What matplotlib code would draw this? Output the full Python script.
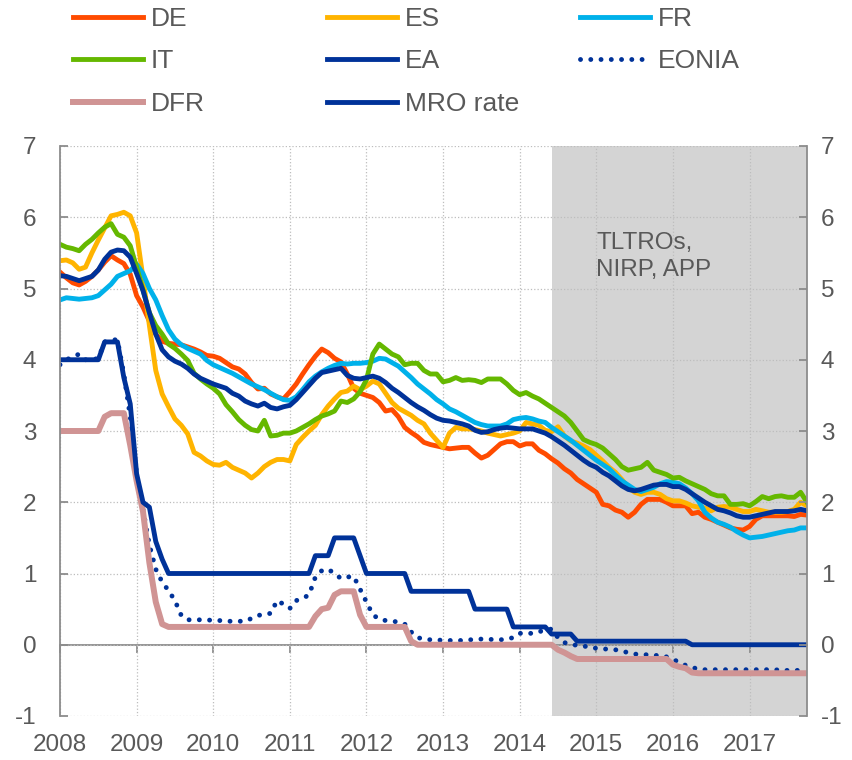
import numpy as np
import pandas as pd
import matplotlib
matplotlib.use("Agg")
import matplotlib.pyplot as plt

plt.rcParams['font.family'] = ['Liberation Sans', 'DejaVu Sans']
plt.rcParams['axes.unicode_minus'] = False

# monthly data, Jan 2008 - Oct 2017
mois = pd.date_range("2008-01-01", "2017-10-01", freq="MS")
annees = [2008, 2009, 2010, 2011, 2012, 2013, 2014, 2015, 2016, 2017]

de = [5.23, 5.15, 5.08, 5.05, 5.10, 5.17, 5.26, 5.37, 5.46, 5.40, 5.35, 5.20,
      4.90, 4.74, 4.54, 4.36, 4.26, 4.23, 4.22, 4.21, 4.18, 4.15, 4.11, 4.06,
      4.05, 4.02, 3.96, 3.90, 3.87, 3.80, 3.68, 3.59, 3.60, 3.52, 3.48, 3.45,
      3.55, 3.66, 3.80, 3.93, 4.05, 4.15, 4.10, 4.02, 3.97, 3.80, 3.60, 3.53,
      3.50, 3.47, 3.40, 3.28, 3.30, 3.20, 3.05, 2.98, 2.92, 2.84, 2.81, 2.79,
      2.77, 2.75, 2.76, 2.77, 2.77, 2.69, 2.62, 2.66, 2.74, 2.82, 2.85, 2.85,
      2.79, 2.82, 2.82, 2.73, 2.68, 2.61, 2.55, 2.47, 2.41, 2.32, 2.26, 2.20,
      2.14, 1.97, 1.95, 1.89, 1.86, 1.79, 1.86, 1.97, 2.04, 2.04, 2.04, 2.00,
      1.95, 1.95, 1.95, 1.84, 1.86, 1.79, 1.76, 1.72, 1.68, 1.64, 1.62, 1.61,
      1.66, 1.76, 1.81, 1.81, 1.81, 1.81, 1.81, 1.80, 1.83, 1.82]

es = [5.39, 5.40, 5.36, 5.27, 5.30, 5.50, 5.68, 5.85, 6.02, 6.04, 6.07, 6.02,
      5.78, 5.15, 4.48, 3.85, 3.52, 3.34, 3.17, 3.08, 2.96, 2.70, 2.65, 2.58,
      2.53, 2.52, 2.56, 2.49, 2.45, 2.41, 2.34, 2.41, 2.50, 2.56, 2.60, 2.60,
      2.58, 2.81, 2.91, 3.00, 3.08, 3.23, 3.35, 3.45, 3.54, 3.56, 3.63, 3.58,
      3.63, 3.70, 3.66, 3.53, 3.40, 3.32, 3.27, 3.22, 3.15, 3.10, 2.97, 2.87,
      2.77, 2.97, 3.05, 3.03, 3.03, 3.02, 3.00, 2.97, 2.95, 2.93, 2.95, 2.97,
      3.00, 3.12, 3.10, 3.08, 3.01, 2.99, 3.06, 2.93, 2.86, 2.83, 2.79, 2.74,
      2.66, 2.58, 2.49, 2.42, 2.32, 2.21, 2.14, 2.11, 2.14, 2.14, 2.11, 2.05,
      2.02, 2.02, 1.99, 1.95, 1.93, 1.92, 1.88, 1.93, 1.94, 1.93, 1.90, 1.87,
      1.87, 1.90, 1.88, 1.86, 1.86, 1.86, 1.87, 1.90, 2.00, 1.95]

fr = [4.84, 4.87, 4.86, 4.85, 4.86, 4.87, 4.90, 4.98, 5.06, 5.17, 5.21, 5.25,
      5.34, 5.21, 5.00, 4.84, 4.62, 4.42, 4.29, 4.21, 4.16, 4.12, 4.08, 3.99,
      3.93, 3.89, 3.85, 3.81, 3.76, 3.71, 3.66, 3.62, 3.58, 3.53, 3.48, 3.44,
      3.43, 3.48, 3.58, 3.69, 3.77, 3.83, 3.88, 3.92, 3.95, 3.94, 3.95, 3.95,
      3.96, 3.98, 4.02, 4.01, 3.96, 3.91, 3.83, 3.75, 3.66, 3.59, 3.52, 3.44,
      3.38, 3.31, 3.27, 3.22, 3.17, 3.12, 3.09, 3.07, 3.07, 3.07, 3.10, 3.16,
      3.18, 3.19, 3.17, 3.14, 3.12, 3.05, 2.99, 2.93, 2.87, 2.80, 2.73, 2.66,
      2.59, 2.53, 2.47, 2.38, 2.30, 2.24, 2.18, 2.15, 2.18, 2.21, 2.26, 2.29,
      2.28, 2.26, 2.20, 2.12, 2.02, 1.86, 1.78, 1.72, 1.69, 1.65, 1.59, 1.54,
      1.50, 1.51, 1.52, 1.54, 1.56, 1.58, 1.60, 1.61, 1.64, 1.64]

it = [5.62, 5.58, 5.56, 5.53, 5.62, 5.69, 5.78, 5.86, 5.91, 5.76, 5.72, 5.60,
      5.30, 4.98, 4.66, 4.48, 4.36, 4.22, 4.16, 4.08, 3.99, 3.81, 3.73, 3.66,
      3.60, 3.52, 3.37, 3.27, 3.16, 3.08, 3.02, 3.00, 3.15, 2.93, 2.94, 2.97,
      2.97, 3.00, 3.05, 3.10, 3.16, 3.21, 3.24, 3.28, 3.42, 3.40, 3.45, 3.55,
      3.72, 4.08, 4.22, 4.15, 4.08, 4.04, 3.93, 3.95, 3.95, 3.85, 3.80, 3.80,
      3.69, 3.71, 3.75, 3.71, 3.72, 3.71, 3.68, 3.73, 3.73, 3.73, 3.66, 3.57,
      3.51, 3.54, 3.49, 3.45, 3.39, 3.33, 3.27, 3.21, 3.12, 3.00, 2.88, 2.84,
      2.81, 2.76, 2.68, 2.60, 2.50, 2.45, 2.47, 2.49, 2.56, 2.45, 2.42, 2.39,
      2.34, 2.35, 2.30, 2.26, 2.22, 2.18, 2.12, 2.09, 2.09, 1.97, 1.97, 1.98,
      1.95, 2.01, 2.08, 2.05, 2.08, 2.09, 2.07, 2.07, 2.14, 2.00]

ea = [5.18, 5.17, 5.14, 5.11, 5.14, 5.17, 5.26, 5.41, 5.51, 5.54, 5.53, 5.44,
      5.21, 4.97, 4.66, 4.36, 4.14, 4.04, 3.98, 3.94, 3.88, 3.80, 3.74, 3.70,
      3.66, 3.63, 3.60, 3.53, 3.49, 3.42, 3.38, 3.35, 3.39, 3.33, 3.31, 3.34,
      3.36, 3.44, 3.54, 3.64, 3.74, 3.82, 3.84, 3.86, 3.88, 3.78, 3.74, 3.73,
      3.75, 3.77, 3.74, 3.68, 3.60, 3.54, 3.47, 3.40, 3.34, 3.29, 3.23, 3.18,
      3.15, 3.14, 3.12, 3.10, 3.07, 3.01, 2.98, 2.99, 3.02, 3.04, 3.05, 3.04,
      3.03, 3.03, 3.03, 3.00, 2.97, 2.92, 2.86, 2.80, 2.73, 2.66, 2.59, 2.53,
      2.49, 2.42, 2.37, 2.30, 2.23, 2.18, 2.16, 2.18, 2.21, 2.24, 2.25, 2.25,
      2.22, 2.22, 2.18, 2.12, 2.06, 2.00, 1.95, 1.90, 1.88, 1.85, 1.81, 1.79,
      1.79, 1.81, 1.83, 1.85, 1.87, 1.87, 1.87, 1.88, 1.90, 1.88]

eonia = [3.93, 4.00, 4.04, 4.08, 4.00, 4.00, 4.02, 4.25, 4.28, 4.28, 3.80, 3.20,
         2.40, 1.90, 1.40, 1.06, 0.88, 0.76, 0.62, 0.41, 0.35, 0.35, 0.35, 0.35,
         0.34, 0.34, 0.33, 0.33, 0.33, 0.33, 0.37, 0.41, 0.43, 0.44, 0.62, 0.57,
         0.51, 0.62, 0.65, 0.70, 0.95, 1.04, 1.06, 1.00, 0.93, 0.95, 0.96, 0.78,
         0.60, 0.42, 0.36, 0.34, 0.33, 0.32, 0.29, 0.18, 0.10, 0.08, 0.07, 0.07,
         0.06, 0.06, 0.06, 0.06, 0.07, 0.07, 0.08, 0.08, 0.07, 0.07, 0.08, 0.10,
         0.16, 0.16, 0.16, 0.18, 0.21, 0.22, 0.10, 0.03, 0.01, -0.01, -0.02, -0.03,
         -0.05, -0.06, -0.06, -0.07, -0.09, -0.11, -0.13, -0.14, -0.14, -0.15, -0.15, -0.17,
         -0.21, -0.24, -0.29, -0.32, -0.34, -0.35, -0.35, -0.35, -0.35, -0.35, -0.35, -0.35,
         -0.35, -0.35, -0.35, -0.35, -0.35, -0.36, -0.36, -0.36, -0.36, -0.36]

dfr = [3.00, 3.00, 3.00, 3.00, 3.00, 3.00, 3.00, 3.20, 3.25, 3.25, 3.25, 2.80,
       2.30, 1.87, 1.15, 0.60, 0.29, 0.25, 0.25, 0.25, 0.25, 0.25, 0.25, 0.25,
       0.25, 0.25, 0.25, 0.25, 0.25, 0.25, 0.25, 0.25, 0.25, 0.25, 0.25, 0.25,
       0.25, 0.25, 0.25, 0.25, 0.40, 0.50, 0.52, 0.70, 0.75, 0.75, 0.75, 0.42,
       0.25, 0.25, 0.25, 0.25, 0.25, 0.25, 0.25, 0.05, 0.00, 0.00, 0.00, 0.00,
       0.00, 0.00, 0.00, 0.00, 0.00, 0.00, 0.00, 0.00, 0.00, 0.00, 0.00, 0.00,
       0.00, 0.00, 0.00, 0.00, 0.00, 0.00, -0.07, -0.11, -0.16, -0.20, -0.20, -0.20,
       -0.20, -0.20, -0.20, -0.20, -0.20, -0.20, -0.20, -0.20, -0.20, -0.20, -0.20, -0.20,
       -0.28, -0.31, -0.33, -0.39, -0.40, -0.40, -0.40, -0.40, -0.40, -0.40, -0.40, -0.40,
       -0.40, -0.40, -0.40, -0.40, -0.40, -0.40, -0.40, -0.40, -0.40, -0.40]

mro = [4.00, 4.00, 4.00, 4.00, 4.00, 4.00, 4.00, 4.25, 4.25, 4.25, 3.75, 3.38,
       2.40, 2.00, 1.93, 1.45, 1.20, 1.00, 1.00, 1.00, 1.00, 1.00, 1.00, 1.00,
       1.00, 1.00, 1.00, 1.00, 1.00, 1.00, 1.00, 1.00, 1.00, 1.00, 1.00, 1.00,
       1.00, 1.00, 1.00, 1.00, 1.25, 1.25, 1.25, 1.50, 1.50, 1.50, 1.50, 1.25,
       1.00, 1.00, 1.00, 1.00, 1.00, 1.00, 1.00, 0.75, 0.75, 0.75, 0.75, 0.75,
       0.75, 0.75, 0.75, 0.75, 0.75, 0.50, 0.50, 0.50, 0.50, 0.50, 0.50, 0.25,
       0.25, 0.25, 0.25, 0.25, 0.25, 0.15, 0.15, 0.15, 0.15, 0.05, 0.05, 0.05,
       0.05, 0.05, 0.05, 0.05, 0.05, 0.05, 0.05, 0.05, 0.05, 0.05, 0.05, 0.05,
       0.05, 0.05, 0.05, 0.00, 0.00, 0.00, 0.00, 0.00, 0.00, 0.00, 0.00, 0.00,
       0.00, 0.00, 0.00, 0.00, 0.00, 0.00, 0.00, 0.00, 0.00, 0.00]

debut_zone = "2014-06"
texte_zone = "TLTROs,\nNIRP, APP"

# couleurs
gris_texte = "#595959"
gris_axe = "#8c8c8c"
bleu = "#003299"

x = mois.year + (mois.month - 1) / 12.0
x_zone = pd.Timestamp(debut_zone)
x_zone = x_zone.year + (x_zone.month - 1) / 12.0

fig = plt.figure(figsize=(8.52, 7.6), dpi=100)
ax = fig.add_axes([60/852, 44/760, 747/852, 570/760])

ax.axvspan(x_zone, x[-1], color="#d4d4d4", lw=0, zorder=0)

lw = 3.5
l_de, = ax.plot(x, de, color="#ff4b00", lw=lw, label="DE")
l_es, = ax.plot(x, es, color="#ffb400", lw=lw, label="ES")
l_fr, = ax.plot(x, fr, color="#00b1ea", lw=lw, label="FR")
l_it, = ax.plot(x, it, color="#65b800", lw=lw, label="IT")
l_ea, = ax.plot(x, ea, color=bleu, lw=lw, label="EA")
l_eo, = ax.plot(x, eonia, color=bleu, lw=3.5, linestyle=(0, (0.01, 2.1)),
                dash_capstyle="round", label="EONIA")
l_dfr, = ax.plot(x, dfr, color="#d09494", lw=4.3, label="DFR")
l_mro, = ax.plot(x, mro, color=bleu, lw=lw, label="MRO rate")

ax.text(2015, 5.80, texte_zone, fontsize=17.5, color=gris_texte, va="top", ha="left",
        linespacing=1.33)

ax.set_xlim(x[0], x[-1])
ax.set_ylim(-1, 7)
ax.set_yticks(range(-1, 8))
ax.set_xticks(annees)
ax.set_xticklabels([str(a) for a in annees])
ax.set_axisbelow(True)
ax.grid(True, linestyle=":", color="#bdbdbd", lw=0.9)

for s in ["top", "bottom", "right"]:
    ax.spines[s].set_visible(False)
ax.spines["left"].set_color(gris_axe)
ax.spines["left"].set_linewidth(1.3)
ax.tick_params(axis="x", length=0, pad=13, labelsize=17.5, labelcolor=gris_texte)
ax.tick_params(axis="y", direction="in", length=6, width=1.3, color=gris_axe,
               pad=17, labelsize=17.5, labelcolor=gris_texte)

# axe de droite
ax2 = ax.twinx()
ax2.set_ylim(-1, 7)
ax2.set_yticks(range(-1, 8))
for s in ["top", "bottom", "left"]:
    ax2.spines[s].set_visible(False)
ax2.spines["right"].set_color(gris_axe)
ax2.spines["right"].set_linewidth(1.3)
ax2.tick_params(axis="y", direction="in", length=6, width=1.3, color=gris_axe,
                pad=10, labelsize=17.5, labelcolor=gris_texte)

# axe des x a zero
axe0 = ax.secondary_xaxis(1/8)
axe0.set_xticks(annees)
axe0.xaxis.set_ticks_position("bottom")
axe0.tick_params(axis="x", direction="out", length=6, width=1.3, color=gris_axe,
                 labelbottom=False, labeltop=False)
for s in axe0.spines.values():
    s.set_color(gris_axe)
    s.set_linewidth(1.3)

# legende en trois colonnes
colonnes = [([l_de, l_it, l_dfr], 73), ([l_es, l_ea, l_mro], 327), ([l_fr, l_eo], 580)]
for lignes, xpos in colonnes:
    leg = fig.legend(handles=lignes, labels=[l.get_label() for l in lignes],
                     loc="upper left", bbox_to_anchor=(xpos/852, 1 - 7/760),
                     frameon=False, fontsize=19, borderpad=0, borderaxespad=0,
                     handlelength=2.65, handletextpad=0.3, labelspacing=0.7)
    for t in leg.get_texts():
        t.set_color(gris_texte)

plt.savefig("out.png", dpi=100)
